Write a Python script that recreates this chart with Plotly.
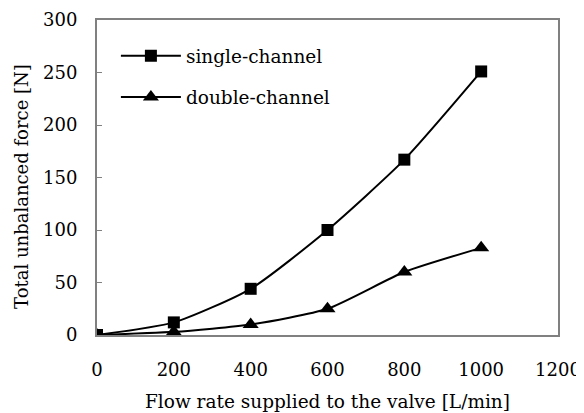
import plotly.graph_objects as go

flow = [0, 200, 400, 600, 800, 1000]
single_channel = [0, 12, 44, 100, 167, 251]
double_channel = [0, 3, 10, 25, 60, 83]

x_ticks = [0, 200, 400, 600, 800, 1000, 1200]
y_ticks = [0, 50, 100, 150, 200, 250, 300]

x_title = "Flow rate supplied to the valve [L/min]"
y_title = "Total unbalanced force [N]"

font_family = "DejaVu Serif, Liberation Serif, serif"

fig = go.Figure()
fig.add_trace(go.Scatter(
    x=flow, y=single_channel, name="single-channel", mode="lines+markers",
    line=dict(color="black", width=2, shape="spline", smoothing=0.6),
    marker=dict(symbol="square", size=12, color="black"),
    legendgroup="a",
))
fig.add_trace(go.Scatter(
    x=flow, y=double_channel, name="double-channel", mode="lines+markers",
    line=dict(color="black", width=2, shape="spline", smoothing=0.6),
    marker=dict(symbol="triangle-up", size=14, color="black"),
    legendgroup="b",
))

# page body has an 8px margin: margins are reduced by 8px to compensate
fig.update_layout(
    width=584, height=413,
    margin=dict(l=89, r=34, t=12, b=86, autoexpand=False),
    paper_bgcolor="white", plot_bgcolor="white",
    font=dict(family=font_family, size=18, color="black"),
    showlegend=True,
    legend=dict(x=0.041, y=0.945, xanchor="left", yanchor="top",
                bgcolor="rgba(0,0,0,0)", font=dict(size=18.5),
                tracegroupgap=14, itemwidth=60),
    xaxis=dict(
        range=[0, 1200], tickvals=x_ticks, showgrid=False, zeroline=False,
        showline=True, linecolor="#808080", linewidth=2, mirror=True,
        ticks="", tickfont=dict(size=18), automargin=False,
        ticklabelstandoff=17, ticklabeloverflow="allow",
    ),
    yaxis=dict(
        range=[0, 300], tickvals=y_ticks, showgrid=False, zeroline=False,
        showline=True, linecolor="#808080", linewidth=2, mirror=True,
        ticks="inside", ticklen=5, tickcolor="#808080",
        tickfont=dict(size=18), automargin=False,
        ticklabelstandoff=14,
    ),
    annotations=[
        dict(text=x_title, xref="paper", yref="paper", x=0.5, y=-0.171,
             xanchor="center", yanchor="top", showarrow=False,
             font=dict(size=18.5)),
        dict(text=y_title, xref="paper", yref="paper", x=-0.165, y=0.473,
             xanchor="center", yanchor="middle", textangle=-90, showarrow=False,
             font=dict(size=18)),
    ],
)

fig.write_html("out.html")
